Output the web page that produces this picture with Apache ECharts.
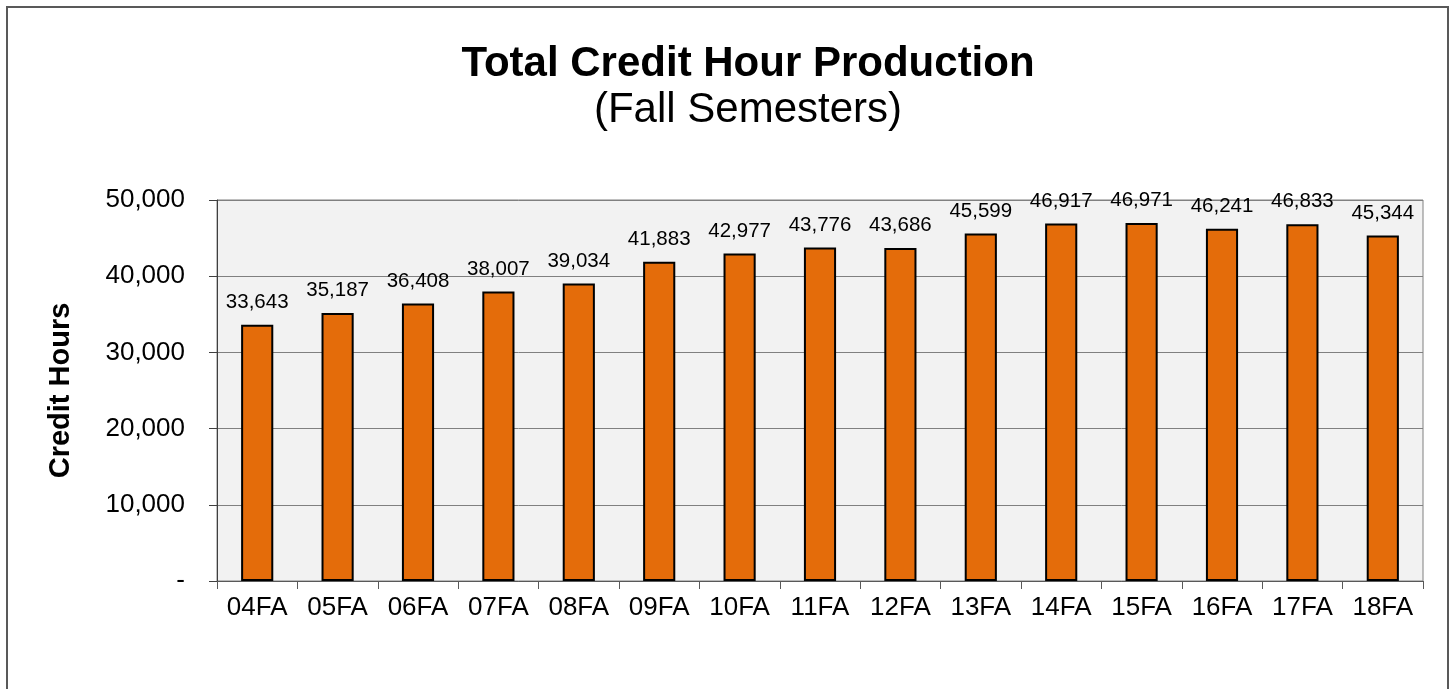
<!DOCTYPE html>
<html>
<head>
<meta charset="utf-8">
<script src="https://cdn.jsdelivr.net/npm/echarts@6/dist/echarts.min.js"></script>
<style>
  html, body { margin: 0; padding: 0; background: #fff; }
  #main { width: 1453px; height: 689px; }
</style>
</head>
<body>
<div id="main"></div>
<script>
// 学期
const semesters = ['04FA', '05FA', '06FA', '07FA', '08FA', '09FA', '10FA', '11FA', '12FA', '13FA', '14FA', '15FA', '16FA', '17FA', '18FA'];
// 学分小时
const creditHours = [33643, 35187, 36408, 38007, 39034, 41883, 42977, 43776, 43686, 45599, 46917, 46971, 46241, 46833, 45344];

const font = 'Arial, "Liberation Sans", sans-serif';
const fmt = v => v === 0 ? '-' : v.toLocaleString('en-US');

let myChart = echarts.init(document.getElementById('main'));
myChart.setOption({
  animation: false,
  title: {
    text: 'Total Credit Hour Production',
    subtext: '(Fall Semesters)',
    left: 743,
    top: 38,
    textAlign: 'center',
    itemGap: 4,
    textStyle: { fontFamily: font, fontSize: 42, fontWeight: 'bold', color: '#000' },
    subtextStyle: { fontFamily: font, fontSize: 42, color: '#000' }
  },
  graphic: [{
    type: 'rect',
    shape: { x: 7, y: 7, width: 1441, height: 700 },
    style: { fill: 'none', stroke: '#595959', lineWidth: 2 },
    silent: true
  }],
  grid: {
    left: 217, right: 30, top: 200, bottom: 108,
    show: true,
    backgroundColor: '#f2f2f2',
    borderColor: '#808080',
    borderWidth: 1
  },
  xAxis: {
    type: 'category',
    data: semesters,
    axisLine: { lineStyle: { color: '#595959', width: 1 } },
    axisTick: { show: true, length: 8, lineStyle: { color: '#595959' } },
    axisLabel: { fontFamily: font, fontSize: 26, color: '#000', margin: 14 }
  },
  yAxis: {
    type: 'value',
    min: 0,
    max: 50000,
    interval: 10000,
    name: 'Credit Hours',
    nameLocation: 'middle',
    nameGap: 142,
    nameTextStyle: { fontFamily: font, fontSize: 29, fontWeight: 'bold', color: '#000' },
    axisLine: { show: true, lineStyle: { color: '#404040', width: 1 } },
    axisTick: { show: true, length: 8, lineStyle: { color: '#404040' } },
    axisLabel: { fontFamily: font, fontSize: 26, color: '#000', margin: 32, formatter: fmt },
    splitLine: { lineStyle: { color: '#808080', width: 1 } }
  },
  series: [{
    type: 'bar',
    data: creditHours,
    barCategoryGap: '60%',
    itemStyle: { color: '#e46c0a', borderColor: '#000', borderWidth: 2 },
    label: {
      show: true,
      position: 'top',
      distance: 12,
      fontFamily: font,
      fontSize: 20.5,
      color: '#000',
      formatter: p => fmt(p.value)
    }
  }]
});
</script>
</body>
</html>
